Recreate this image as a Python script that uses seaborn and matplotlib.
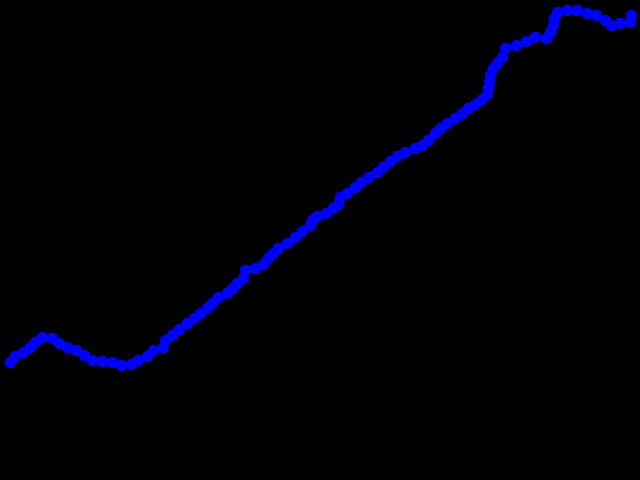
import numpy as np
import matplotlib
matplotlib.use('Agg')
import matplotlib.pyplot as plt
import seaborn as sns
import pandas as pd

# values (arbitrary units, x left->right, y bottom->top)
x_vals = [10, 15, 23, 30, 35, 42, 52, 59, 67, 76, 84, 92, 102, 112, 121, 131,
          138, 147, 153, 163, 165, 172, 179, 187, 194, 200, 207, 212, 218, 227,
          232, 237, 243, 245, 255, 263, 268, 273, 278, 287, 295, 302, 310, 312,
          317, 326, 333, 338, 340, 347, 355, 361, 368, 377, 383, 390, 397, 405,
          415, 422, 428, 435, 440, 447, 455, 462, 468, 475, 482, 487, 488, 489,
          490, 493, 497, 502, 505, 516, 526, 535, 546, 550, 553, 554, 557, 567,
          577, 587, 596, 605, 611, 620, 630, 631]
y_vals = [118, 124, 128, 133, 138, 143, 142, 137, 133, 130, 125, 120, 119, 118,
          115, 116, 120, 124, 130, 133, 140, 145, 151, 157, 162, 167, 172, 177,
          183, 187, 192, 197, 202, 210, 212, 216, 222, 227, 232, 237, 243, 249,
          255, 260, 264, 267, 272, 276, 283, 287, 293, 298, 303, 308, 313, 319,
          324, 328, 332, 335, 340, 347, 352, 357, 362, 367, 372, 376, 381, 386,
          392, 398, 405, 412, 417, 423, 432, 435, 439, 443, 442, 448, 455, 462,
          468, 470, 470, 467, 465, 460, 455, 457, 458, 465]

df = pd.DataFrame({'x': x_vals, 'y': y_vals})

fig = plt.figure(figsize=(6.4, 4.8), dpi=100, facecolor='black')
ax = fig.add_axes([0, 0, 1, 1])
ax.set_facecolor('black')

sns.lineplot(data=df, x='x', y='y', ax=ax, color='#0000ff', linewidth=3,
             marker='o', markersize=7.5, markeredgecolor='#0000ff',
             estimator=None, sort=False)

ax.set_xlim(0, 640)
ax.set_ylim(0, 480)
ax.axis('off')

fig.savefig('out.png', dpi=100, facecolor='black')
